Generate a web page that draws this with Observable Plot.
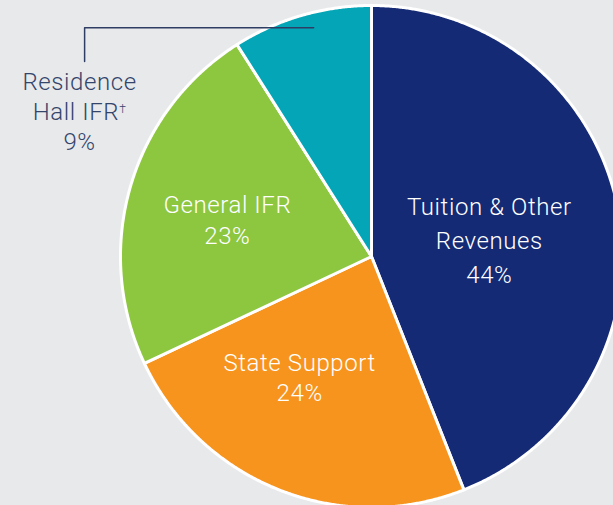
<!DOCTYPE html>
<html><head><meta charset="utf-8">
<script src="https://cdn.jsdelivr.net/npm/d3@7"></script>
<script src="https://cdn.jsdelivr.net/npm/@observablehq/plot@0.6"></script>
<style>html,body{margin:0;padding:0;background:#e8e9eb;overflow:hidden}</style>
</head><body><div id="chart"></div><script>
const categories = ["Tuition & Other Revenues", "State Support", "General IFR", "Residence Hall IFR"];
const shares = [44, 24, 23, 9];
const labelText = ["Tuition & Other\nRevenues", "State Support", "General IFR", "Residence\nHall IFR†"];
const colors = ["#152a75", "#f7941d", "#8dc63f", "#03a5b6"];

const W = 613, H = 505, CX = 371, CY = 256, R = 251;
const arcs = d3.pie().sort(null).value(d => d.v)(categories.map((c, i) => ({c, v: shares[i], i})));

function slicePts(a) {
  const pts = [{x: 0, y: 0}];
  const n = Math.max(8, Math.ceil((a.endAngle - a.startAngle) / 0.005));
  for (let k = 0; k <= n; k++) {
    const t = a.startAngle + (a.endAngle - a.startAngle) * k / n;
    pts.push({x: Math.sin(t), y: Math.cos(t)});
  }
  pts.push({x: 0, y: 0});
  return pts;
}
const mid = a => (a.startAngle + a.endAngle) / 2;
const polar = (t, r) => ({x: r * Math.sin(t), y: r * Math.cos(t)});

const inside = [
  {i: 0, r: 0.478, dx: 0, dy: 4, lh: 1.42},
  {i: 1, r: 0.518, dx: -24, dy: -1, lh: 1.27},
  {i: 2, r: 0.598, dx: 0, dy: 4, lh: 1.3}
].map(o => ({...o, ...polar(mid(arcs[o.i]), o.r), text: labelText[o.i] + "\n" + shares[o.i] + "%"}));

const tip = polar(mid(arcs[3]) + 0.035, 0.94);
const labelX = -1.143;
const leader = [{x: tip.x, y: tip.y}, {x: labelX, y: tip.y}, {x: labelX, y: 0.777}];
const outside = [{x: -1.163, y: 0.582, text: labelText[3] + "\n" + shares[3] + "%"}];

const marks = [];
arcs.forEach((a, i) => {
  marks.push(Plot.line(slicePts(a), {x: "x", y: "y", fill: colors[i], stroke: "white", strokeWidth: 3, strokeLinejoin: "round"}));
});
marks.push(Plot.line(leader, {x: "x", y: "y", stroke: "#2e3d63", strokeWidth: 1.5}));
inside.forEach(o => {
  marks.push(Plot.text([o], {x: "x", y: "y", text: "text", dx: o.dx, dy: o.dy, fill: "white", fontSize: 24, fontWeight: 300, lineHeight: o.lh, lineAnchor: "middle", textAnchor: "middle"}));
});
marks.push(Plot.text(outside, {x: "x", y: "y", text: "text", fill: "#34456b", fontSize: 24, fontWeight: 300, lineHeight: 1.25, lineAnchor: "middle", textAnchor: "middle"}));

const chart = Plot.plot({
  width: W, height: H,
  margin: 0,
  x: {domain: [-CX / R, (W - CX) / R], axis: null},
  y: {domain: [-(H - CY) / R, CY / R], axis: null},
  style: {background: "#e8e9eb", fontFamily: "Roboto, 'Helvetica Neue', Arial, sans-serif", letterSpacing: "0.6px", overflow: "hidden"},
  marks
});
d3.select(chart).selectAll("tspan").each(function() {
  const t = this.textContent;
  if (t.endsWith("†")) {
    const s = d3.select(this);
    s.text(t.slice(0, -1));
    s.append("tspan").attr("font-size", 12).attr("baseline-shift", "super").text("†");
  }
});
document.getElementById("chart").appendChild(chart);
</script></body></html>
